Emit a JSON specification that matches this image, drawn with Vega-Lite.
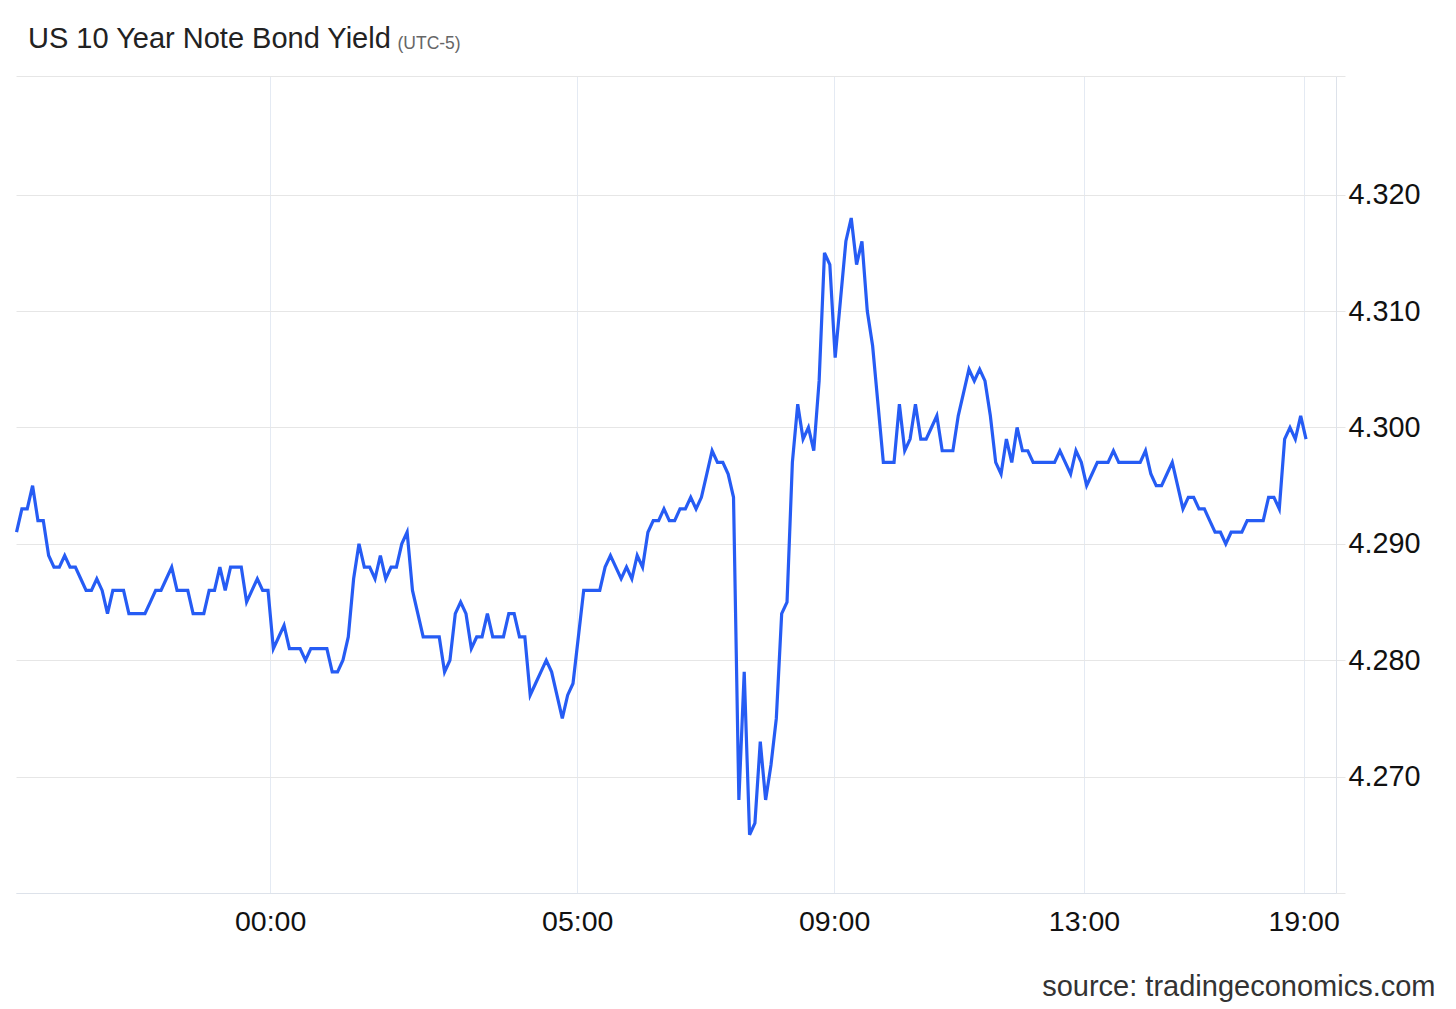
{
  "$schema": "https://vega.github.io/schema/vega-lite/v6.json",
  "width": 1320,
  "height": 817,
  "autosize": {"type": "none"},
  "padding": {"left": 16, "top": 76, "right": 120, "bottom": 116},
  "background": "white",
  "config": {"view": {"stroke": null}, "font": "Liberation Sans"},
  "title": {
    "text": "US 10 Year Note Bond Yield",
    "anchor": "start",
    "frame": "group",
    "orient": "top",
    "dx": 12,
    "offset": -43,
    "baseline": "alphabetic",
    "fontSize": 29,
    "fontWeight": "normal",
    "color": "#222222",
    "font": "Liberation Sans"
  },
  "data": {
    "values": [
      {"i":0,"yield":4.291},{"i":1,"yield":4.293},{"i":2,"yield":4.293},{"i":3,"yield":4.295},{"i":4,"yield":4.292},
      {"i":5,"yield":4.292},{"i":6,"yield":4.289},{"i":7,"yield":4.288},{"i":8,"yield":4.288},{"i":9,"yield":4.289},
      {"i":10,"yield":4.288},{"i":11,"yield":4.288},{"i":12,"yield":4.287},{"i":13,"yield":4.286},{"i":14,"yield":4.286},
      {"i":15,"yield":4.287},{"i":16,"yield":4.286},{"i":17,"yield":4.284},{"i":18,"yield":4.286},{"i":19,"yield":4.286},
      {"i":20,"yield":4.286},{"i":21,"yield":4.284},{"i":22,"yield":4.284},{"i":23,"yield":4.284},{"i":24,"yield":4.284},
      {"i":25,"yield":4.285},{"i":26,"yield":4.286},{"i":27,"yield":4.286},{"i":28,"yield":4.287},{"i":29,"yield":4.288},
      {"i":30,"yield":4.286},{"i":31,"yield":4.286},{"i":32,"yield":4.286},{"i":33,"yield":4.284},{"i":34,"yield":4.284},
      {"i":35,"yield":4.284},{"i":36,"yield":4.286},{"i":37,"yield":4.286},{"i":38,"yield":4.288},{"i":39,"yield":4.286},
      {"i":40,"yield":4.288},{"i":41,"yield":4.288},{"i":42,"yield":4.288},{"i":43,"yield":4.285},{"i":44,"yield":4.286},
      {"i":45,"yield":4.287},{"i":46,"yield":4.286},{"i":47,"yield":4.286},{"i":48,"yield":4.281},{"i":49,"yield":4.282},
      {"i":50,"yield":4.283},{"i":51,"yield":4.281},{"i":52,"yield":4.281},{"i":53,"yield":4.281},{"i":54,"yield":4.280},
      {"i":55,"yield":4.281},{"i":56,"yield":4.281},{"i":57,"yield":4.281},{"i":58,"yield":4.281},{"i":59,"yield":4.279},
      {"i":60,"yield":4.279},{"i":61,"yield":4.280},{"i":62,"yield":4.282},{"i":63,"yield":4.287},{"i":64,"yield":4.290},
      {"i":65,"yield":4.288},{"i":66,"yield":4.288},{"i":67,"yield":4.287},{"i":68,"yield":4.289},{"i":69,"yield":4.287},
      {"i":70,"yield":4.288},{"i":71,"yield":4.288},{"i":72,"yield":4.290},{"i":73,"yield":4.291},{"i":74,"yield":4.286},
      {"i":75,"yield":4.284},{"i":76,"yield":4.282},{"i":77,"yield":4.282},{"i":78,"yield":4.282},{"i":79,"yield":4.282},
      {"i":80,"yield":4.279},{"i":81,"yield":4.280},{"i":82,"yield":4.284},{"i":83,"yield":4.285},{"i":84,"yield":4.284},
      {"i":85,"yield":4.281},{"i":86,"yield":4.282},{"i":87,"yield":4.282},{"i":88,"yield":4.284},{"i":89,"yield":4.282},
      {"i":90,"yield":4.282},{"i":91,"yield":4.282},{"i":92,"yield":4.284},{"i":93,"yield":4.284},{"i":94,"yield":4.282},
      {"i":95,"yield":4.282},{"i":96,"yield":4.277},{"i":97,"yield":4.278},{"i":98,"yield":4.279},{"i":99,"yield":4.280},
      {"i":100,"yield":4.279},{"i":101,"yield":4.277},{"i":102,"yield":4.275},{"i":103,"yield":4.277},{"i":104,"yield":4.278},
      {"i":105,"yield":4.282},{"i":106,"yield":4.286},{"i":107,"yield":4.286},{"i":108,"yield":4.286},{"i":109,"yield":4.286},
      {"i":110,"yield":4.288},{"i":111,"yield":4.289},{"i":112,"yield":4.288},{"i":113,"yield":4.287},{"i":114,"yield":4.288},
      {"i":115,"yield":4.287},{"i":116,"yield":4.289},{"i":117,"yield":4.288},{"i":118,"yield":4.291},{"i":119,"yield":4.292},
      {"i":120,"yield":4.292},{"i":121,"yield":4.293},{"i":122,"yield":4.292},{"i":123,"yield":4.292},{"i":124,"yield":4.293},
      {"i":125,"yield":4.293},{"i":126,"yield":4.294},{"i":127,"yield":4.293},{"i":128,"yield":4.294},{"i":129,"yield":4.296},
      {"i":130,"yield":4.298},{"i":131,"yield":4.297},{"i":132,"yield":4.297},{"i":133,"yield":4.296},{"i":134,"yield":4.294},
      {"i":135,"yield":4.268},{"i":136,"yield":4.279},{"i":137,"yield":4.265},{"i":138,"yield":4.266},{"i":139,"yield":4.273},
      {"i":140,"yield":4.268},{"i":141,"yield":4.271},{"i":142,"yield":4.275},{"i":143,"yield":4.284},{"i":144,"yield":4.285},
      {"i":145,"yield":4.297},{"i":146,"yield":4.302},{"i":147,"yield":4.299},{"i":148,"yield":4.300},{"i":149,"yield":4.298},
      {"i":150,"yield":4.304},{"i":151,"yield":4.315},{"i":152,"yield":4.314},{"i":153,"yield":4.306},{"i":154,"yield":4.311},
      {"i":155,"yield":4.316},{"i":156,"yield":4.318},{"i":157,"yield":4.314},{"i":158,"yield":4.316},{"i":159,"yield":4.310},
      {"i":160,"yield":4.307},{"i":161,"yield":4.302},{"i":162,"yield":4.297},{"i":163,"yield":4.297},{"i":164,"yield":4.297},
      {"i":165,"yield":4.302},{"i":166,"yield":4.298},{"i":167,"yield":4.299},{"i":168,"yield":4.302},{"i":169,"yield":4.299},
      {"i":170,"yield":4.299},{"i":171,"yield":4.300},{"i":172,"yield":4.301},{"i":173,"yield":4.298},{"i":174,"yield":4.298},
      {"i":175,"yield":4.298},{"i":176,"yield":4.301},{"i":177,"yield":4.303},{"i":178,"yield":4.305},{"i":179,"yield":4.304},
      {"i":180,"yield":4.305},{"i":181,"yield":4.304},{"i":182,"yield":4.301},{"i":183,"yield":4.297},{"i":184,"yield":4.296},
      {"i":185,"yield":4.299},{"i":186,"yield":4.297},{"i":187,"yield":4.300},{"i":188,"yield":4.298},{"i":189,"yield":4.298},
      {"i":190,"yield":4.297},{"i":191,"yield":4.297},{"i":192,"yield":4.297},{"i":193,"yield":4.297},{"i":194,"yield":4.297},
      {"i":195,"yield":4.298},{"i":196,"yield":4.297},{"i":197,"yield":4.296},{"i":198,"yield":4.298},{"i":199,"yield":4.297},
      {"i":200,"yield":4.295},{"i":201,"yield":4.296},{"i":202,"yield":4.297},{"i":203,"yield":4.297},{"i":204,"yield":4.297},
      {"i":205,"yield":4.298},{"i":206,"yield":4.297},{"i":207,"yield":4.297},{"i":208,"yield":4.297},{"i":209,"yield":4.297},
      {"i":210,"yield":4.297},{"i":211,"yield":4.298},{"i":212,"yield":4.296},{"i":213,"yield":4.295},{"i":214,"yield":4.295},
      {"i":215,"yield":4.296},{"i":216,"yield":4.297},{"i":217,"yield":4.295},{"i":218,"yield":4.293},{"i":219,"yield":4.294},
      {"i":220,"yield":4.294},{"i":221,"yield":4.293},{"i":222,"yield":4.293},{"i":223,"yield":4.292},{"i":224,"yield":4.291},
      {"i":225,"yield":4.291},{"i":226,"yield":4.290},{"i":227,"yield":4.291},{"i":228,"yield":4.291},{"i":229,"yield":4.291},
      {"i":230,"yield":4.292},{"i":231,"yield":4.292},{"i":232,"yield":4.292},{"i":233,"yield":4.292},{"i":234,"yield":4.294},
      {"i":235,"yield":4.294},{"i":236,"yield":4.293},{"i":237,"yield":4.299},{"i":238,"yield":4.300},{"i":239,"yield":4.299},
      {"i":240,"yield":4.301},{"i":241,"yield":4.299}
    ]
  },
  "mark": {"type": "line", "color": "#265cf4", "strokeWidth": 3.2},
  "encoding": {
    "x": {
      "field": "i",
      "type": "quantitative",
      "scale": {"domain": [-0.1, 246.6], "nice": false, "zero": false},
      "axis": {
        "values": [47.4, 104.8, 152.8, 199.5, 240.55],
        "labelExpr": "datum.value < 60 ? '00:00' : datum.value < 120 ? '05:00' : datum.value < 170 ? '09:00' : datum.value < 220 ? '13:00' : '19:00'",
        "grid": true,
        "gridColor": "#e4eaf3",
        "gridWidth": 1,
        "domain": true,
        "domainColor": "#dde2ea",
        "ticks": false,
        "tickSize": 0,
        "labelPadding": 14,
        "labelFontSize": 28.5,
        "labelColor": "#111111",
        "labelFont": "Liberation Sans",
        "labelBaseline": "top",
        "labelAlign": "center",
        "labelFlush": false,
        "labelOverlap": false,
        "title": "source: tradingeconomics.com",
        "titleX": 1419,
        "titleY": 102,
        "titleAlign": "right",
        "titleAnchor": "end",
        "titleBaseline": "alphabetic",
        "titleFontSize": 29,
        "titleFontWeight": "normal",
        "titleColor": "#333333",
        "titleFont": "Liberation Sans"
      }
    },
    "y": {
      "field": "yield",
      "type": "quantitative",
      "scale": {"domain": [4.26, 4.3302], "nice": false, "zero": false},
      "axis": {
        "orient": "right",
        "values": [4.26, 4.27, 4.28, 4.29, 4.30, 4.31, 4.32, 4.3302],
        "labelExpr": "datum.value > 4.265 && datum.value < 4.325 ? format(datum.value, '.3f') : ''",
        "grid": true,
        "gridColor": "#e6e6e6",
        "domain": true,
        "domainColor": "#dde2ea",
        "ticks": true,
        "tickColor": "#e6e6e6",
        "tickSize": 9,
        "labelPadding": 3,
        "labelFontSize": 28.8,
        "labelColor": "#111111",
        "labelFont": "Liberation Sans",
        "labelBaseline": "middle",
        "labelAlign": "left",
        "labelFlush": false,
        "labelOverlap": false,
        "title": "(UTC-5)",
        "titleAngle": 0,
        "titleX": -939,
        "titleY": -28,
        "titleAlign": "left",
        "titleBaseline": "alphabetic",
        "titleFontSize": 17.5,
        "titleFontWeight": "normal",
        "titleColor": "#666666",
        "titleFont": "Liberation Sans"
      }
    }
  }
}
